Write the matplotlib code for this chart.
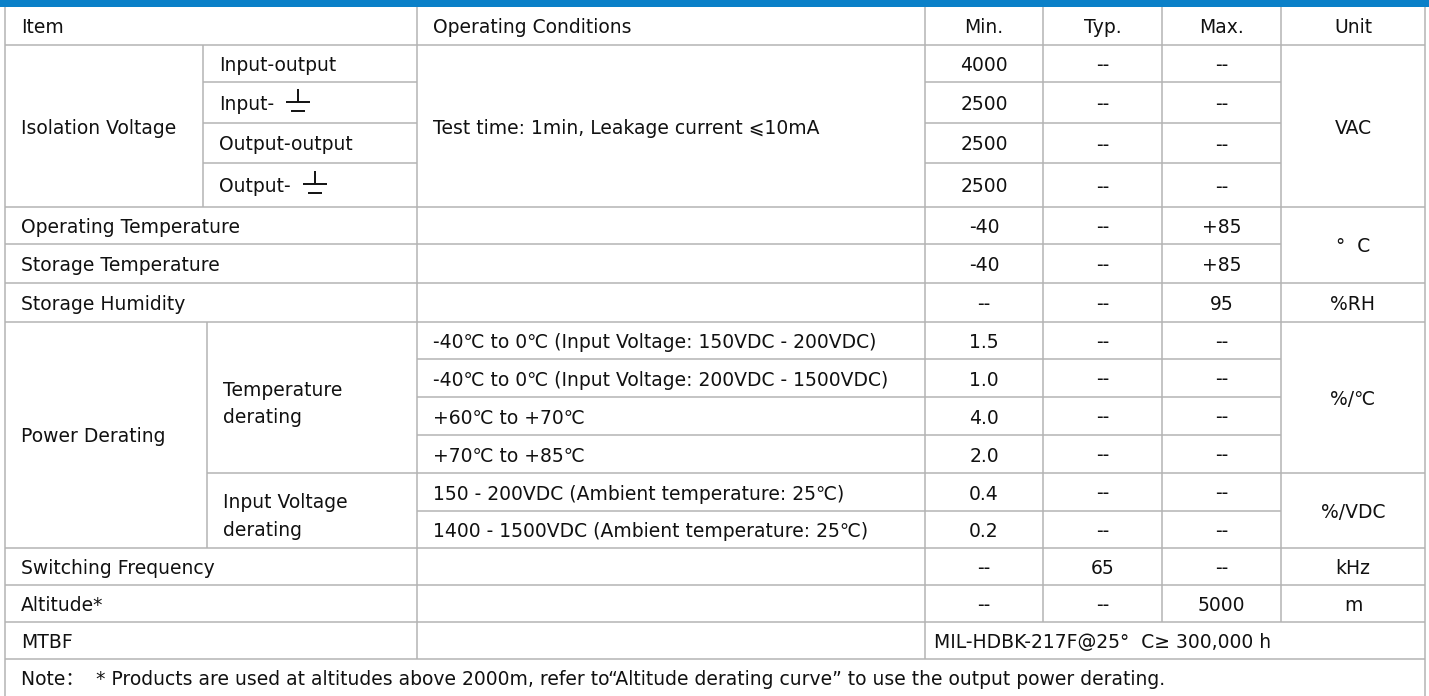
import matplotlib
matplotlib.use("Agg")
import matplotlib.pyplot as plt

plt.rcParams['font.family'] = ['DejaVu Sans', 'Noto Sans CJK SC']

# ---------------- data ----------------
header_labels = ["Item", "Operating Conditions", "Min.", "Typ.", "Max.", "Unit"]

iso_item = "Isolation Voltage"
iso_subitems = ["Input-output", "Input-", "Output-output", "Output-"]
iso_ground = [False, True, False, True]
iso_condition = "Test time: 1min, Leakage current \u2a7d10mA"
iso_min = ["4000", "2500", "2500", "2500"]
iso_typ = ["--", "--", "--", "--"]
iso_max = ["--", "--", "--", "--"]
iso_unit = "VAC"

env_items = ["Operating Temperature", "Storage Temperature", "Storage Humidity"]
env_min = ["-40", "-40", "--"]
env_typ = ["--", "--", "--"]
env_max = ["+85", "+85", "95"]
temp_unit = "\u00b0  C"
hum_unit = "%RH"

pd_item = "Power Derating"
pd_subitems = ["Temperature\nderating", "Input Voltage\nderating"]
pd_conditions = [
    "-40\u2103 to 0\u2103 (Input Voltage: 150VDC - 200VDC)",
    "-40\u2103 to 0\u2103 (Input Voltage: 200VDC - 1500VDC)",
    "+60\u2103 to +70\u2103",
    "+70\u2103 to +85\u2103",
    "150 - 200VDC (Ambient temperature: 25\u2103)",
    "1400 - 1500VDC (Ambient temperature: 25\u2103)",
]
pd_min = ["1.5", "1.0", "4.0", "2.0", "0.4", "0.2"]
pd_typ = ["--", "--", "--", "--", "--", "--"]
pd_max = ["--", "--", "--", "--", "--", "--"]
pd_units = ["%/\u2103", "%/VDC"]

tail_items = ["Switching Frequency", "Altitude*"]
tail_min = ["--", "--"]
tail_typ = ["65", "--"]
tail_max = ["--", "5000"]
tail_unit = ["kHz", "m"]

mtbf_item = "MTBF"
mtbf_value = "MIL-HDBK-217F@25\u00b0  C\u2265 300,000 h"
note_text = ("Note\uff1a  * Products are used at altitudes above 2000m, refer to\u201cAltitude "
             "derating curve\u201d to use the output power derating.")

# ---------------- layout ----------------
W, H = 1429, 696
XL, XSUB_ISO, XSUB_PD, XCOND, XMIN, XTYP, XMAX, XUNIT, XR = 5, 203, 207, 417, 925, 1043, 1162, 1281, 1425
YL = [6.7, 45, 82, 123, 163, 207, 244, 283, 322, 359, 397, 435, 473, 511, 548, 585, 622, 659, 696]
PAD = 16
FS = 13.5
LC = '#b4b4b4'
LW = 1.1

fig = plt.figure(figsize=(W / 100, H / 100), dpi=100)
ax = fig.add_axes([0, 0, 1, 1])
ax.set_xlim(0, W)
ax.set_ylim(H, 0)
ax.axis('off')

# blue header bar
ax.fill_between([0, W], 0, YL[0], color='#0a80c8', lw=0)


def hline(y, x0, x1):
    ax.plot([x0, x1], [y, y], color=LC, lw=LW, solid_capstyle='butt')


def vline(x, y0, y1):
    ax.plot([x, x], [y0, y1], color=LC, lw=LW, solid_capstyle='butt')


def txt(x, y, s, ha='left'):
    return ax.text(x, y, s, ha=ha, va='center_baseline', fontsize=FS, color='#111111',
                   linespacing=1.55)


def mid(a, b):
    return (YL[a] + YL[b]) / 2


def ccol(c0, c1):
    return (c0 + c1) / 2


def ground_symbol(x_left, yc):
    """earth-ground glyph drawn after a label (x_left: left edge, yc: row centre)"""
    k = dict(color='#111111', lw=1.4, solid_capstyle='butt')
    xc = x_left + 12
    ax.plot([xc, xc], [yc - 14, yc - 1], **k)
    ax.plot([x_left, x_left + 24], [yc - 1, yc - 1], **k)
    ax.plot([x_left + 5, x_left + 19], [yc + 8, yc + 8], **k)

# ---------------- grid ----------------
vline(XL, YL[0], H)
vline(XR, YL[0], H)
hline(YL[1], XL, XR)
for x in (XCOND, XMIN, XTYP, XMAX, XUNIT):
    vline(x, YL[0], YL[1])

# isolation block
for i in range(2, 5):
    hline(YL[i], XSUB_ISO, XCOND)
    hline(YL[i], XMIN, XUNIT)
hline(YL[5], XL, XR)
vline(XSUB_ISO, YL[1], YL[5])
for x in (XCOND, XMIN, XTYP, XMAX, XUNIT):
    vline(x, YL[1], YL[5])

# environment rows
hline(YL[6], XL, XUNIT)
hline(YL[7], XL, XR)
hline(YL[8], XL, XR)
for x in (XCOND, XMIN, XTYP, XMAX, XUNIT):
    vline(x, YL[5], YL[8])

# power derating
for i in range(9, 14):
    x1 = XR if i == 12 else XUNIT
    hline(YL[i], XCOND, x1)
hline(YL[12], XSUB_PD, XCOND)
hline(YL[14], XL, XR)
vline(XSUB_PD, YL[8], YL[14])
for x in (XCOND, XMIN, XTYP, XMAX, XUNIT):
    vline(x, YL[8], YL[14])

# tail rows
for i in (15, 16, 17):
    hline(YL[i], XL, XR)
for x in (XCOND, XMIN, XTYP, XMAX, XUNIT):
    vline(x, YL[14], YL[16])
vline(XCOND, YL[16], YL[17])
vline(XMIN, YL[16], YL[17])

# ---------------- text ----------------
cols = [(XMIN, XTYP), (XTYP, XMAX), (XMAX, XUNIT), (XUNIT, XR)]

txt(XL + PAD, mid(0, 1), header_labels[0])
txt(XCOND + PAD, mid(0, 1), header_labels[1])
for (c0, c1), lab in zip(cols, header_labels[2:]):
    txt(ccol(c0, c1), mid(0, 1), lab, ha='center')

txt(XL + PAD, mid(1, 5), iso_item)
txt(XCOND + PAD, mid(1, 5), iso_condition)
fig.canvas.draw()
renderer = fig.canvas.get_renderer()
inv = ax.transData.inverted()
for i in range(4):
    r0, r1 = 1 + i, 2 + i
    t = txt(XSUB_ISO + PAD, mid(r0, r1), iso_subitems[i])
    if iso_ground[i]:
        bb = t.get_window_extent(renderer)
        x_end = inv.transform((bb.x1, bb.y0))[0]
        ground_symbol(x_end + 12, mid(r0, r1))
    for (c0, c1), v in zip(cols[:3], (iso_min[i], iso_typ[i], iso_max[i])):
        txt(ccol(c0, c1), mid(r0, r1), v, ha='center')
txt(ccol(XUNIT, XR), mid(1, 5), iso_unit, ha='center')

for i in range(3):
    r0, r1 = 5 + i, 6 + i
    txt(XL + PAD, mid(r0, r1), env_items[i])
    for (c0, c1), v in zip(cols[:3], (env_min[i], env_typ[i], env_max[i])):
        txt(ccol(c0, c1), mid(r0, r1), v, ha='center')
txt(ccol(XUNIT, XR), mid(5, 7), temp_unit, ha='center')
txt(ccol(XUNIT, XR), mid(7, 8), hum_unit, ha='center')

txt(XL + PAD, mid(8, 14), pd_item)
txt(XSUB_PD + PAD, mid(8, 12), pd_subitems[0])
txt(XSUB_PD + PAD, mid(12, 14), pd_subitems[1])
for i in range(6):
    r0, r1 = 8 + i, 9 + i
    txt(XCOND + PAD, mid(r0, r1), pd_conditions[i])
    for (c0, c1), v in zip(cols[:3], (pd_min[i], pd_typ[i], pd_max[i])):
        txt(ccol(c0, c1), mid(r0, r1), v, ha='center')
txt(ccol(XUNIT, XR), mid(8, 12), pd_units[0], ha='center')
txt(ccol(XUNIT, XR), mid(12, 14), pd_units[1], ha='center')

for i in range(2):
    r0, r1 = 14 + i, 15 + i
    txt(XL + PAD, mid(r0, r1), tail_items[i])
    for (c0, c1), v in zip(cols, (tail_min[i], tail_typ[i], tail_max[i], tail_unit[i])):
        txt(ccol(c0, c1), mid(r0, r1), v, ha='center')

txt(XL + PAD, mid(16, 17), mtbf_item)
txt(XMIN + 9, mid(16, 17), mtbf_value)

txt(XL + PAD, mid(17, 18), note_text)

fig.savefig("out.png", dpi=100)
